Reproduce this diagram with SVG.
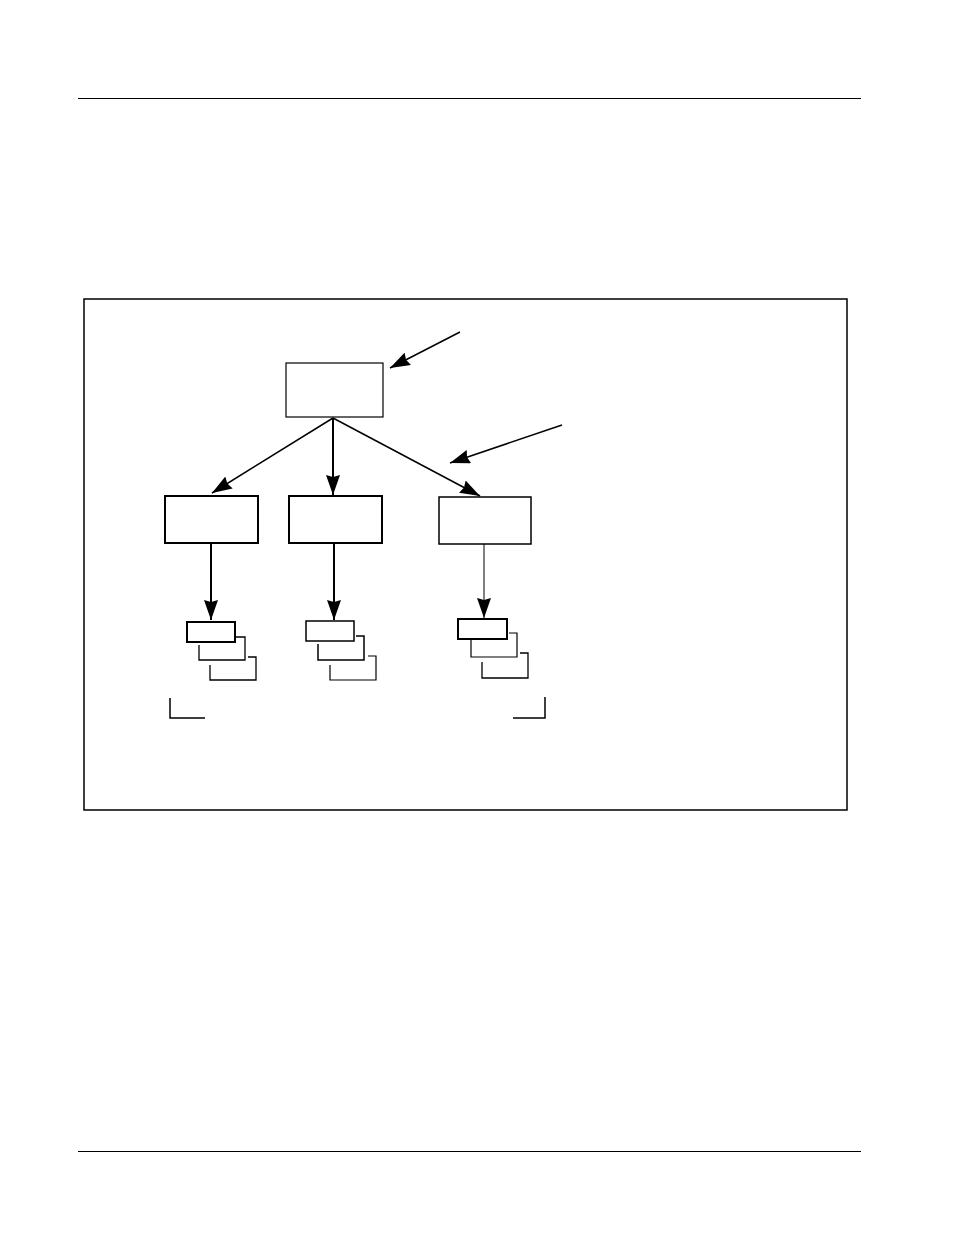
<svg xmlns="http://www.w3.org/2000/svg" width="954" height="1235" viewBox="0 0 954 1235">
<style>
.ln{stroke:#000;fill:none}
.bx{fill:#fff;stroke:#000}
</style>
<defs>
<marker id="ah" viewBox="0 0 20 14" refX="20" refY="7" markerWidth="20" markerHeight="14" markerUnits="userSpaceOnUse" orient="auto">
<path d="M0,0 L20,7 L0,14 L2,7 Z" fill="#000"/>
</marker>
</defs>
<rect width="954" height="1235" fill="#fff"/>
<line class="ln" x1="78" y1="98.5" x2="861" y2="98.5" stroke-width="1"/>
<line class="ln" x1="78" y1="1151.5" x2="861" y2="1151.5" stroke-width="1"/>
<rect class="ln" x="84" y="299" width="763" height="511" stroke-width="1.5"/>
<g id="connectors">
<line class="ln" x1="333" y1="418" x2="212" y2="493" stroke-width="1.5" marker-end="url(#ah)"/>
<line class="ln" x1="333" y1="418" x2="333" y2="495" stroke-width="2" marker-end="url(#ah)"/>
<line class="ln" x1="333" y1="418" x2="480" y2="496" stroke-width="1.5" marker-end="url(#ah)"/>
<line class="ln" x1="460" y1="332" x2="390" y2="368" stroke-width="1.5" marker-end="url(#ah)"/>
<line class="ln" x1="562" y1="425" x2="450" y2="463" stroke-width="1.5" marker-end="url(#ah)"/>
<line class="ln" x1="211" y1="543" x2="211" y2="620" stroke-width="2" marker-end="url(#ah)"/>
<line class="ln" x1="334" y1="543" x2="334" y2="620" stroke-width="2" marker-end="url(#ah)"/>
<line class="ln" x1="484" y1="543" x2="484" y2="618" stroke-width="1" marker-end="url(#ah)"/>
</g>
<g id="top"><rect class="bx" x="286" y="363" width="97" height="54" stroke-width="1.2"/></g>
<g id="child1"><rect class="bx" x="165" y="496" width="93" height="47" stroke-width="2"/></g>
<g id="child2"><rect class="bx" x="289" y="496" width="93" height="47" stroke-width="2"/></g>
<g id="child3"><rect class="bx" x="439" y="497" width="92" height="47" stroke-width="1.5"/></g>
<g id="stack1">
<rect class="bx" x="187" y="622" width="48" height="20" stroke-width="2"/>
<path class="ln" d="M236,637 H245 V660 H199 V645" stroke-width="1.3"/>
<path class="ln" d="M248,657 H256 V680 H210 V665" stroke-width="1.3"/>
</g>
<g id="stack2">
<rect class="bx" x="306" y="621" width="48" height="20" stroke-width="1.5"/>
<path class="ln" d="M356,636 H364 V660 H318 V644" stroke-width="1.5"/>
<path class="ln" d="M368,656 H376 V680 H330 V665" stroke-width="1.2"/>
</g>
<g id="stack3">
<rect class="bx" x="458" y="619" width="49" height="20" stroke-width="2"/>
<path class="ln" d="M509,633 H517 V657 H471 V640" stroke-width="1.2"/>
<path class="ln" d="M520,653 H528 V678 H482 V662" stroke-width="1.3"/>
</g>
<g id="brackets">
<path class="ln" d="M170,698 V718 H205" stroke-width="1.5"/>
<path class="ln" d="M545,697 V718 H513" stroke-width="1.5"/>
</g>
</svg>
